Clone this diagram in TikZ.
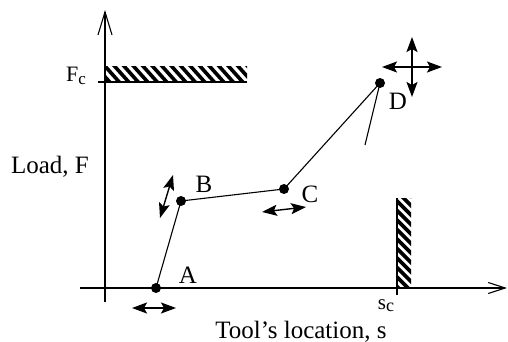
\documentclass[tikz,border=0pt]{standalone}
\usepackage{fontspec}
\setmainfont{Liberation Serif}
\usetikzlibrary{arrows.meta}
\begin{document}
\begin{tikzpicture}[x=1pt,y=-1pt,
  lbl/.style={font=\fontsize{25}{28}\selectfont, inner sep=0pt, anchor=base},
  dot/.style={circle, fill=black, minimum size=10pt, inner sep=0pt},
  seg/.style={line width=1.1pt},
  dbl/.style={line width=1.4pt, {Stealth[length=15pt,width=11pt,inset=3pt]}-{Stealth[length=15pt,width=11pt,inset=3pt]}},
  hatch/.style={line width=3.6pt}]
\useasboundingbox (0,0) rectangle (508,342);
% axes
\coordinate (yb) at (105,302);
\coordinate (yt) at (105,10);
\coordinate (xl) at (80,288);
\coordinate (xr) at (507,288);
\draw[line width=1.1pt, -{Straight Barb[length=23pt,width=14pt]}] (yb) -- (yt);
\draw[line width=1.1pt, -{Straight Barb[length=17pt,width=11pt]}] (xl) -- (xr);
% Fc hatched band
\begin{scope}
  \clip (105,67) rectangle (247,82);
  \foreach \x in {85,94.5,...,260} \draw[hatch] (\x,65) -- (\x+17,84);
\end{scope}
\coordinate (fcl) at (98,82);
\coordinate (fcr) at (247,82);
\draw[seg] (fcl) -- (fcr);
% sc hatched band
\begin{scope}
  \clip (397,198) rectangle (411,288);
  \foreach \y in {180,189.5,...,300} \draw[hatch] (395,\y) -- (413,\y+18);
\end{scope}
\coordinate (sct) at (397,198);
\coordinate (scb) at (397,295);
\draw[seg] (sct) -- (scb);
% points
\node[dot] (A) at (156,288) {};
\node[dot] (B) at (181,201) {};
\node[dot] (C) at (284,189) {};
\node[dot] (D) at (380,83) {};
\coordinate (E) at (365,145);
\draw[seg] (A.center) -- (B.center) -- (C.center) -- (D.center) -- (E);
% double arrows
\coordinate (a1) at (132,308); \coordinate (a2) at (176,308);
\draw[dbl] (a1) -- (a2);
\coordinate (b1) at (160,218); \coordinate (b2) at (173,175);
\draw[dbl] (b1) -- (b2);
\coordinate (c1) at (262,212); \coordinate (c2) at (306,207);
\draw[dbl] (c1) -- (c2);
\coordinate (d1) at (382,67); \coordinate (d2) at (442,67);
\draw[dbl] (d1) -- (d2);
\coordinate (d3) at (412,37); \coordinate (d4) at (412,97);
\draw[dbl] (d3) -- (d4);
% labels
\node[lbl] (la) at (188,283) {A};
\node[lbl] (lb) at (204,192) {B};
\node[lbl] (lc) at (310,202) {C};
\node[lbl] (ld) at (398,110) {D};
\node[lbl] (load) at (50,173) {Load, F};
\node[lbl] (tool) at (301,338) {Tool’s location, s};
\node[lbl, anchor=base west, font=\fontsize{22}{24}\selectfont] (fc) at (66,82) {F\raisebox{-3pt}{\fontsize{17}{18}\selectfont c}};
\node[lbl, font=\fontsize{21}{22}\selectfont] (sc) at (386,309) {s\raisebox{-2pt}{\fontsize{18}{18}\selectfont c}};
\end{tikzpicture}
\end{document}
